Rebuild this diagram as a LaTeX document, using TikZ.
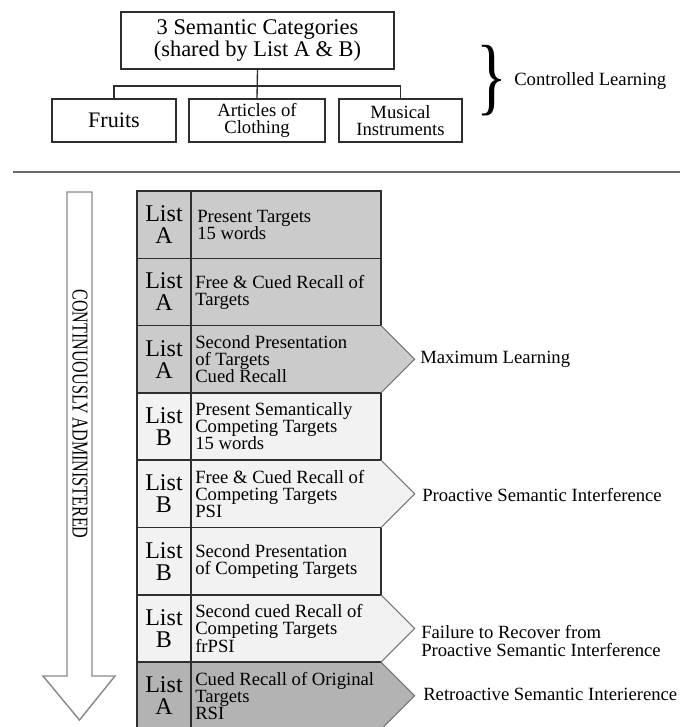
\documentclass[tikz,border=0pt]{standalone}
\usepackage{fontspec}
\setmainfont{Liberation Serif}
\definecolor{rowA}{HTML}{CBCBCB}
\definecolor{rowB}{HTML}{F2F2F2}
\definecolor{rowC}{HTML}{B3B3B3}
\definecolor{tline}{HTML}{2E2E2E}
\definecolor{slant}{HTML}{747474}
\definecolor{arrowgray}{HTML}{8A8A8A}
\definecolor{divgray}{HTML}{6A6A6A}
\begin{document}
\begin{tikzpicture}[x=0.75pt,y=-0.75pt,
  catbox/.style={draw=tline,line width=1pt,inner sep=0pt,align=center},
  bigtxt/.style={font=\fontsize{16.8}{16.5}\selectfont},
  midtxt/.style={font=\fontsize{14}{12.75}\selectfont},
  listlab/.style={inner sep=0pt,align=center,font=\fontsize{18}{16.5}\selectfont},
  bodytxt/.style={inner sep=0pt,anchor=west,align=left,font=\fontsize{14}{12.75}\selectfont},
  sidetxt/.style={inner sep=0pt,anchor=west,align=left,font=\fontsize{14}{13.5}\selectfont},
  conn/.style={draw=tline,line width=1pt},
  tabline/.style={draw=tline,line width=1.1pt},
  slantline/.style={draw=slant,line width=0.8pt}
]
\useasboundingbox (0,0) rectangle (680,727);

% ---- top hierarchy
\node[catbox,bigtxt,minimum width=204.75pt,minimum height=42.75pt] (top) at (257.5,40.5)
  {3 Semantic Categories\\(shared by List A \& B)};
\node[catbox,font=\fontsize{16.6}{16}\selectfont,minimum width=93pt,minimum height=32.25pt] (fru) at (114,120.5) {Fruits};
\node[catbox,midtxt,minimum width=102pt,minimum height=32.25pt] (art) at (257,120.5) {Articles of\\Clothing};
\node[catbox,midtxt,minimum width=92.25pt,minimum height=32.25pt] (mus) at (400.5,120.5) {Musical\\Instruments};
\coordinate (hl) at (258,86);
\draw[conn] (top.south) -- (art.north);
\draw[conn] (fru.north) -- (fru.north |- hl) -- (mus.north |- hl) -- (mus.north);

\node[inner sep=0pt] (brace) at (492,81) {\scalebox{0.75}[1]{\fontsize{64}{64}\selectfont\}}};
\node[sidetxt] (ctrl) at (514,81) {Controlled Learning};

% ---- divider
\draw[draw=divgray,line width=2.2pt] (13,172) -- (680,172);

% ---- left arrow
\draw[draw=arrowgray,line width=1.1pt,fill=white]
  (67,192) -- (92,192) -- (92,676) -- (115,676) -- (79.5,720) -- (43,676) -- (67,676) -- cycle;
\node[rotate=-90,inner sep=0pt,font=\fontsize{17}{17}\selectfont] (cont) at (80,414)
  {\scalebox{0.71}[1]{CONTINUOUSLY ADMINISTERED}};

% ---- table fills
\def\h{67.3}
\def\hh{33.65}
\fill[rowA] (137,191) rectangle (381,325.6);
\fill[rowA] (137,325.6) -- (381,325.6) -- (414.65,359.25) -- (381,392.9) -- (137,392.9) -- cycle;
\fill[rowB] (137,392.9) rectangle (381,460.2);
\fill[rowB] (137,460.2) -- (381,460.2) -- (414.65,493.85) -- (381,527.5) -- (137,527.5) -- cycle;
\fill[rowB] (137,527.5) rectangle (381,594.8);
\fill[rowB] (137,594.8) -- (381,594.8) -- (414.65,628.45) -- (381,662.1) -- (137,662.1) -- cycle;
\fill[rowC] (137,662.1) -- (381,662.1) -- (414.65,695.75) -- (381,729.4) -- (137,729.4) -- cycle;

% ---- table lines
\draw[tabline] (137,729.4) -- (137,191) -- (381,191) -- (381,325.6);
\draw[tabline] (191,191) -- (191,729.4);
\foreach \t in {258.3,325.6,392.9,460.2,527.5,594.8,662.1}
  \draw[tabline] (137,\t) -- (381,\t);
\draw[tabline] (381,392.9) -- (381,460.2);
\draw[tabline] (381,527.5) -- (381,594.8);
\foreach \t in {325.6,460.2,594.8,662.1}
  \draw[slantline] (381,\t) -- ++(33.65,33.65) -- ++(-33.65,33.65);

% ---- table texts
\node[listlab] (l1) at (164,224.65) {List\\A};
\node[listlab] (l2) at (164,291.95) {List\\A};
\node[listlab] (l3) at (164,359.25) {List\\A};
\node[listlab] (l4) at (164,426.55) {List\\B};
\node[listlab] (l5) at (164,493.85) {List\\B};
\node[listlab] (l6) at (164,561.15) {List\\B};
\node[listlab] (l7) at (164,628.45) {List\\B};
\node[listlab] (l8) at (164,695.75) {List\\A};

\node[bodytxt] (b1) at (197,224.65) {Present Targets\\15 words};
\node[bodytxt] (b2) at (195,291.95) {Free \& Cued Recall of\\Targets};
\node[bodytxt] (b3) at (195,359.25) {Second Presentation\\of Targets\\Cued Recall};
\node[bodytxt] (b4) at (195,426.55) {Present Semantically\\Competing Targets\\15 words};
\node[bodytxt] (b5) at (195,493.85) {Free \& Cued Recall of\\Competing Targets\\PSI};
\node[bodytxt] (b6) at (195,561.15) {Second Presentation\\of Competing Targets};
\node[bodytxt] (b7) at (195,628.45) {Second cued Recall of\\Competing Targets\\frPSI};
\node[bodytxt] (b8) at (195,695.75) {Cued Recall of Original\\Targets\\RSI};

% ---- side labels
\node[sidetxt] (r3) at (420,359.25) {Maximum Learning};
\node[sidetxt] (r5) at (422,495) {Proactive Semantic Interference};
\node[sidetxt] (r7) at (421,641) {Failure to Recover from\\Proactive Semantic Interference};
\node[sidetxt] (r8) at (423,694) {Retroactive Semantic Interierence};
\end{tikzpicture}
\end{document}
